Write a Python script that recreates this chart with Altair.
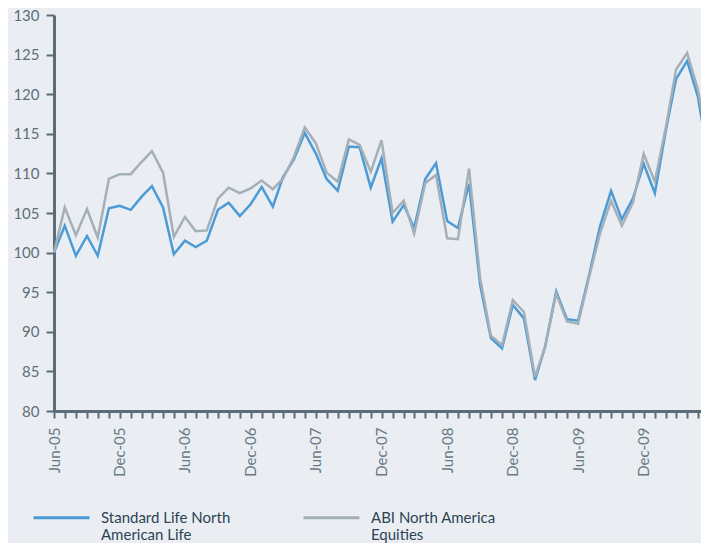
import altair as alt
import pandas as pd

months = pd.date_range("2005-06-01", periods=61, freq="MS")

standard_life = [100.0, 103.4, 99.6, 102.1, 99.6, 105.6, 105.9, 105.4, 107.1, 108.4,
                 105.7, 99.8, 101.5, 100.7, 101.5, 105.4, 106.3, 104.6, 106.1, 108.3,
                 105.8, 109.5, 111.8, 115.1, 112.5, 109.3, 107.8, 113.4, 113.3, 108.2,
                 111.9, 103.9, 106.0, 103.1, 109.3, 111.3, 104.0, 103.1, 108.7, 95.9,
                 89.2, 87.9, 93.4, 91.7, 83.9, 88.1, 95.1, 91.6, 91.4, 97.0,
                 103.3, 107.8, 104.2, 106.85, 111.2, 107.5, 115.5, 121.9, 124.2, 119.7,
                 111.3]

abi = [100.0, 105.7, 102.2, 105.5, 101.9, 109.3, 109.9, 109.9, 111.5, 112.8,
       110.1, 102.0, 104.5, 102.7, 102.8, 106.8, 108.2, 107.5, 108.1, 109.1,
       108.0, 109.3, 112.1, 115.8, 113.8, 110.1, 108.95, 114.3, 113.6, 110.2,
       114.2, 105.0, 106.55, 102.4, 108.8, 109.8, 101.8, 101.7, 110.6, 96.75,
       89.5, 88.3, 94.0, 92.5, 84.3, 88.1, 94.8, 91.3, 91.0, 96.75,
       102.4, 106.55, 103.4, 106.3, 112.45, 108.95, 115.9, 123.1, 125.2, 120.6,
       113.2]

series_names = ["Standard Life North American Life", "ABI North America Equities"]
series_colors = ["#4a9bd6", "#a5afb7"]

df = pd.concat([
    pd.DataFrame({"month": months, "value": standard_life, "series": series_names[0]}),
    pd.DataFrame({"month": months, "value": abi, "series": series_names[1]}),
])

font = "Lato"
axis_col = "#5b6b77"

label_expr = ("datum.label == 'Standard Life North American Life' ? "
              "['Standard Life North', 'American Life'] : ['ABI North America', 'Equities']")

color = alt.Color(
    "series:N",
    scale=alt.Scale(domain=series_names, range=series_colors),
    legend=alt.Legend(
        title=None, orient="none", direction="horizontal",
        legendX=-22, legendY=473,
        symbolType="stroke", symbolSize=3136, symbolStrokeWidth=3,
        labelExpr=label_expr, labelFont=font, labelFontSize=15,
        labelColor="#2d4353", labelOffset=10, columnPadding=66,
        labelBaseline="middle", padding=0, labelLimit=300,
    ),
)

x = alt.X(
    "month:T",
    scale=alt.Scale(domain=[months[0].isoformat(), months[-1].isoformat()]),
    axis=alt.Axis(
        title=None,
        values=[m.isoformat() for m in months],
        labelExpr="(month(datum.value) == 5 || month(datum.value) == 11) ? timeFormat(datum.value, '%b-%y') : ''",
        labelAngle=270, labelAlign="right", labelBaseline="middle",
        labelOverlap=False, labelFlush=False, labelBound=False,
        labelPadding=9, tickSize=7, tickWidth=2, tickColor=axis_col,
        domainColor=axis_col, domainWidth=3, grid=False,
        labelFont=font, labelFontSize=15, labelColor="#687985",
    ),
)

y = alt.Y(
    "value:Q",
    scale=alt.Scale(domain=[80, 130], nice=False, zero=False),
    axis=alt.Axis(
        title=None, values=list(range(80, 131, 5)), grid=False,
        tickSize=8, tickWidth=2, tickColor=axis_col,
        domainColor=axis_col, domainWidth=3, labelPadding=7,
        labelFont=font, labelFontSize=15, labelColor="#5e6e7a",
    ),
)

base = alt.Chart(df).mark_line(strokeWidth=2.5).encode(x=x, y=y, color=color)

chart = alt.layer(
    base.transform_filter(alt.datum.series == series_names[0]),
    base.transform_filter(alt.datum.series == series_names[1]),
).properties(
    width=655, height=396,
    autosize=alt.AutoSizeParams(type="none"),
    padding={"left": 46, "top": 7, "right": -8, "bottom": 132},
).configure(background="#eaeef3").configure_view(stroke=None)

chart.save("out.html", embed_options={"renderer": "svg", "actions": False})
